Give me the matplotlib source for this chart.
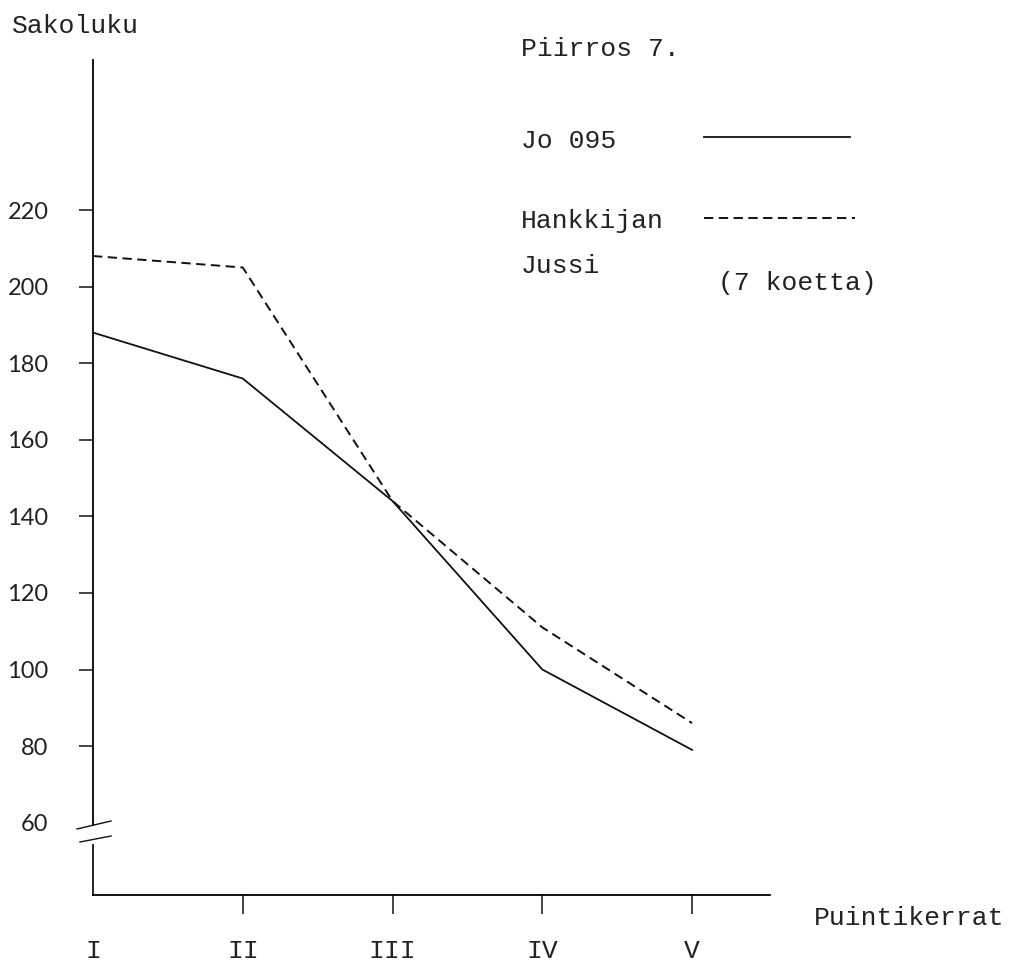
import matplotlib
matplotlib.use("Agg")
import matplotlib.pyplot as plt
from matplotlib.lines import Line2D

# data (Piirros 7.)
categories = ["I", "II", "III", "IV", "V"]
jo095 = [188, 176, 144, 100, 79]
hankkijan_jussi = [208, 205, 144, 111, 86]
yticks = [60, 80, 100, 120, 140, 160, 180, 200, 220]

W, H = 1015, 975
TYPE = "Liberation Mono"
SANS = "Lato"
INK = "#111111"

solid = dict(color=INK, lw=1.3, linestyle="-")
dashed = dict(color=INK, lw=1.4, linestyle=(0, (4.8, 2.8)))


def px(x, y):
    # pixel position in the picture -> figure fraction
    return x / W, 1 - y / H


fig = plt.figure(figsize=(W / 100, H / 100), dpi=100)
fig.patch.set_facecolor("white")
ax = fig.add_axes([93 / W, 80 / H, 677 / W, 835 / H])

x = list(range(len(categories)))
ax.plot(x, jo095, **solid)
ax.plot(x, hankkijan_jussi, **dashed)

ax.set_xlim(0, 4.52)
ax.set_ylim(41.1, 259.2)

for s in ["top", "right"]:
    ax.spines[s].set_visible(False)
ax.spines["left"].set_linewidth(1.3)
ax.spines["bottom"].set_linewidth(1.3)
ax.spines["left"].set_bounds(59.5, 259.2)
# lower piece of the broken y axis
ax.plot([0, 0], [41.1, 54.2], color=INK, lw=1.3, clip_on=False)
# break marks
for (x0, y0), (x1, y1) in [((77, 829), (111, 821)), ((80, 842), (111, 836))]:
    fig.add_artist(Line2D(*zip(px(x0, y0), px(x1, y1)), color=INK, lw=1.0))

ax.set_yticks(yticks)
ax.tick_params(axis="y", direction="out", length=10, width=1.1, pad=22,
               color=INK, labelcolor="#222222")
ax.set_yticklabels([str(v) for v in yticks], fontfamily=SANS, fontsize=17,
                   color="#222222")
ax.yaxis.get_major_ticks()[0].tick1line.set_visible(False)

ax.set_xticks(x)
ax.tick_params(axis="x", direction="out", length=14, width=1.1, pad=18,
               color=INK, labelcolor="#222222")
ax.set_xticklabels(categories, fontfamily=TYPE, fontsize=19, color="#222222")
ax.xaxis.get_major_ticks()[0].tick1line.set_visible(False)

# texts
txt = dict(fontfamily=TYPE, fontsize=19, color="#222222", va="baseline", ha="left")
fig.text(*px(12, 33), "Sakoluku", **txt)
fig.text(*px(521, 56), "Piirros 7.", **txt)
fig.text(*px(521, 148), "Jo 095", **txt)
fig.text(*px(521, 228), "Hankkijan", **txt)
fig.text(*px(521, 273), "Jussi", **txt)
fig.text(*px(718, 290), "(7 koetta)", **txt)
fig.text(*px(814, 925), "Puintikerrat", **txt)

# legend lines
fig.add_artist(Line2D(*zip(px(704, 137), px(850, 137)), **solid))
fig.add_artist(Line2D(*zip(px(704, 218), px(855, 218)), **dashed))

fig.savefig("out.png", dpi=100, facecolor="white")
